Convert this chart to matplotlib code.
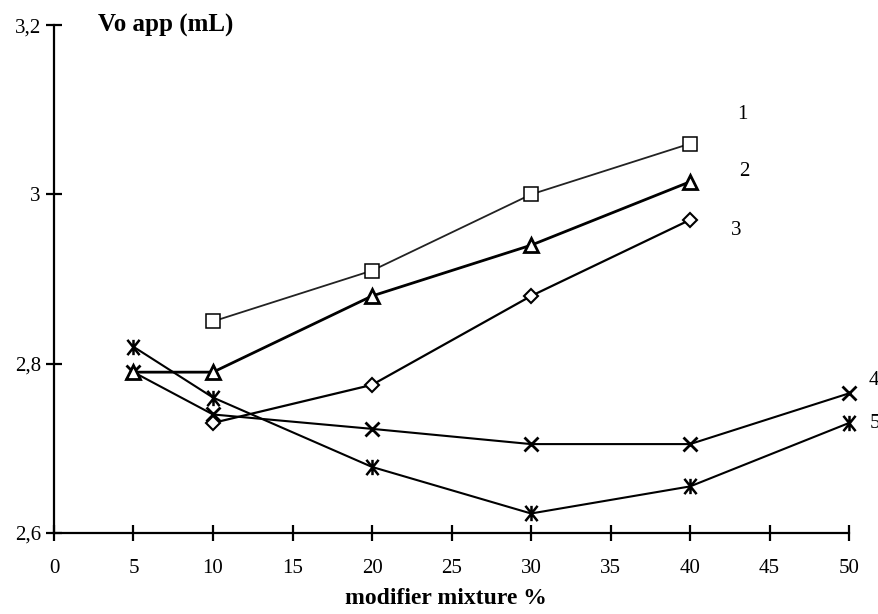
import matplotlib.pyplot as plt
from matplotlib.path import Path
from matplotlib.ticker import FixedLocator, FixedFormatter

plt.rcParams['font.family'] = ['Liberation Serif', 'DejaVu Serif']

# data
x1 = [10, 20, 30, 40]
y1 = [2.85, 2.91, 3.00, 3.06]

x2 = [5, 10, 20, 30, 40]
y2 = [2.79, 2.79, 2.88, 2.94, 3.015]

x3 = [10, 20, 30, 40]
y3 = [2.73, 2.775, 2.88, 2.97]

x4 = [5, 10, 20, 30, 40, 50]
y4 = [2.79, 2.74, 2.723, 2.705, 2.705, 2.765]

x5 = [5, 10, 20, 30, 40, 50]
y5 = [2.82, 2.76, 2.678, 2.623, 2.655, 2.73]

series_names = ['1', '2', '3', '4', '5']
x_ticks = [0, 5, 10, 15, 20, 25, 30, 35, 40, 45, 50]
y_ticks = [2.6, 2.8, 3.0, 3.2]
y_tick_labels = ['2,6', '2,8', '3', '3,2']

# asterisk marker: an x with a vertical bar through it
M, L = Path.MOVETO, Path.LINETO
star = Path([(-0.4, -0.5), (0.4, 0.5), (-0.4, 0.5), (0.4, -0.5),
             (0, -0.5), (0, 0.5)], [M, L, M, L, M, L])

fig = plt.figure(figsize=(8.79, 6.14), dpi=100)
ax = fig.add_axes([0.0614, 0.132, 0.9046, 0.827])

ax.plot(x1, y1, color='#222222', lw=1.3, marker='s', ms=10.5,
        mfc='white', mec='black', mew=1.1, zorder=3)
ax.plot(x2, y2, color='black', lw=2.0, marker='^', ms=10,
        mfc='white', mec='black', mew=2.0, zorder=3)
ax.plot(x3, y3, color='black', lw=1.6, marker='D', ms=7,
        mfc='white', mec='black', mew=1.5, zorder=3)
ax.plot(x4, y4, color='black', lw=1.5, marker='x', ms=10,
        mec='black', mew=2.0, zorder=2)
ax.plot(x5, y5, color='black', lw=1.5, marker=star, ms=11,
        mec='black', mew=1.8, zorder=2)

# series numbers next to the last points
last_pts = [(x1[-1], y1[-1]), (x2[-1], y2[-1]), (x3[-1], y3[-1]),
            (x4[-1], y4[-1]), (x5[-1], y5[-1])]
offsets = [(52, 29), (54, 10), (46, -11), (25, 13), (26, -1)]
for name, pt, off in zip(series_names, last_pts, offsets):
    ax.annotate(name, xy=pt, xytext=off, textcoords='offset pixels',
                ha='center', va='center', fontsize=15)

ax.set_xlim(0, 50)
ax.set_ylim(2.6, 3.2)
ax.xaxis.set_major_locator(FixedLocator(x_ticks))
ax.yaxis.set_major_locator(FixedLocator(y_ticks))
ax.yaxis.set_major_formatter(FixedFormatter(y_tick_labels))

for side in ['top', 'right']:
    ax.spines[side].set_visible(False)
for side in ['left', 'bottom']:
    ax.spines[side].set_linewidth(1.6)
    ax.spines[side].set_color('black')

ax.tick_params(axis='both', direction='inout', length=11, width=1.6,
               labelsize=15, colors='black')
ax.tick_params(axis='x', pad=13)
ax.tick_params(axis='y', pad=4)
for line in ax.get_lines():
    line.set_clip_on(False)

fig.text(0.111, 0.958, 'Vo app (mL)', fontsize=18, fontweight='bold',
         ha='left', va='center')
fig.text(0.507, 0.026, 'modifier mixture %', fontsize=17,
         fontweight='bold', ha='center', va='center')

fig.savefig('out.png', dpi=100)
